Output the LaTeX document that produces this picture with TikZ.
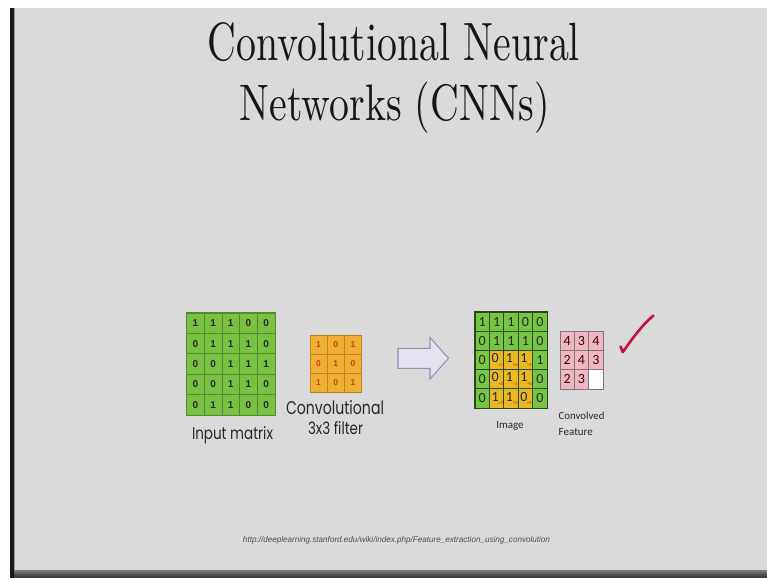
\documentclass[tikz,border=0pt]{standalone}
\usepackage{fontspec}
\newfontfamily\labelfont{Poppins}
\newfontfamily\calfont{Carlito}
\newfontfamily\numfont{Liberation Sans}
\definecolor{slidebg}{RGB}{218,218,218}
\definecolor{bandtop}{RGB}{120,120,120}
\definecolor{bandbot}{RGB}{55,55,55}
\definecolor{ingreen}{RGB}{122,192,67}
\definecolor{ingreenline}{RGB}{78,140,48}
\definecolor{forange}{RGB}{238,176,50}
\definecolor{forangeline}{RGB}{196,128,36}
\definecolor{fred}{RGB}{208,58,30}
\definecolor{imgreen}{RGB}{118,198,68}
\definecolor{imline}{RGB}{40,72,30}
\definecolor{imyellow}{RGB}{234,184,32}
\definecolor{cpink}{RGB}{238,184,194}
\definecolor{cpinkline}{RGB}{128,118,122}
\definecolor{arrowfill}{RGB}{228,226,238}
\definecolor{arrowline}{RGB}{150,146,176}
\definecolor{tick}{RGB}{196,18,58}
\definecolor{titlecol}{RGB}{22,22,22}
\definecolor{labelcol}{RGB}{40,40,40}
\tikzset{
  incell/.style={draw=ingreenline, fill=ingreen, line width=0.8pt, minimum width=17.7pt, minimum height=20.4pt, inner sep=0pt, font=\numfont\bfseries\fontsize{10}{10}\selectfont, text=black!85},
  fcell/.style={draw=forangeline, fill=forange, line width=0.7pt, minimum width=17.2pt, minimum height=19.2pt, inner sep=0pt, font=\numfont\bfseries\fontsize{8.5}{9}\selectfont, text=fred},
  imcell/.style={draw=imline, fill=imgreen, line width=0.9pt, minimum width=14.4pt, minimum height=19.2pt, inner sep=0pt, font=\calfont\fontsize{14}{14}\selectfont, text=black!85},
  imycell/.style={imcell, fill=imyellow},
  ccell/.style={draw=cpinkline, fill=cpink, line width=0.7pt, minimum width=14.33pt, minimum height=19.33pt, inner sep=0pt, font=\calfont\fontsize{14}{14}\selectfont, text=black!75!red},
  lbl/.style={inner sep=0pt, anchor=base, text=labelcol},
}
\newcommand\subx[1]{\rlap{\raisebox{-3.5pt}{\fontsize{4.5}{5}\selectfont\color{fred!80!black}×#1}}}
\begin{document}
\begin{tikzpicture}[x=1pt,y=-1pt]
\useasboundingbox (0,0) rectangle (767,579);
% slide frame
\fill[white] (0,0) rectangle (767,579);
\fill[slidebg] (14,8) rectangle (767,570);
\shade[top color=bandtop, bottom color=bandbot] (14,570) rectangle (767,577);
\fill[black!90] (10,8) rectangle (14,578);
\fill[black!40] (14,8) rectangle (15,570);
% title
\node[lbl, text=titlecol] (t1) at (394,60) {\resizebox{372pt}{38pt}{Convolutional Neural}};
\node[lbl, text=titlecol] (t2) at (395,120) {\resizebox{310pt}{38.5pt}{Networks (CNNs)}};
% input matrix
\foreach \row [count=\r from 0] in {{1,1,1,0,0},{0,1,1,1,0},{0,0,1,1,1},{0,0,1,1,0},{0,1,1,0,0}}{
  \foreach \v [count=\c from 0] in \row {
    \node[incell] (in-\r-\c) at ({186.5+17.7*(\c+0.5)},{313+20.4*(\r+0.5)}) {\v};
  }
}
\draw[ingreenline, line width=1pt] (in-0-0.north west) rectangle (in-4-4.south east);
\node[lbl] (inlbl) at (232.5,439) {\resizebox{81pt}{13pt}{\labelfont Input matrix}};
% filter
\foreach \row [count=\r from 0] in {{1,0,1},{0,1,0},{1,0,1}}{
  \foreach \v [count=\c from 0] in \row {
    \node[fcell] (f-\r-\c) at ({310+17.2*(\c+0.5)},{335+19.2*(\r+0.5)}) {\v};
  }
}
\node[lbl] (flbl1) at (335,414) {\resizebox{98pt}{14pt}{\labelfont Convolutional}};
\node[lbl] (flbl2) at (335.5,434) {\resizebox{55pt}{13pt}{\labelfont 3x3 filter}};
% block arrow
\draw[arrowline, fill=arrowfill, line width=1.1pt, line join=miter]
  (398,348.3) -- (430,348.3) -- (430,337.5) -- (448.5,358.3) -- (430,379.1) -- (430,368.3) -- (398,368.3) -- cycle;
% image
\foreach \row [count=\r from 0] in {{1,1,1,0,0},{0,1,1,1,0},{0,0,1,1,1},{0,0,1,1,0},{0,1,1,0,0}}{
  \foreach \v [count=\c from 0] in \row {
    \pgfmathtruncatemacro\isy{(\r>=2)&&(\c>=1)&&(\c<=3)}
    \pgfmathtruncatemacro\fv{mod(\r+\c,2)}
    \ifnum\isy=1
      \node[imycell] (im-\r-\c) at ({475+14.4*(\c+0.5)},{312+19.2*(\r+0.5)}) {\hspace*{-3pt}\v\subx{\fv}};
    \else
      \node[imcell] (im-\r-\c) at ({475+14.4*(\c+0.5)},{312+19.2*(\r+0.5)}) {\v};
    \fi
  }
}
\draw[imline, line width=1.4pt] (im-0-0.north west) rectangle (im-4-4.south east);
\node[lbl] (imlbl) at (510,428.5) {\calfont\fontsize{11}{12}\selectfont Image};
% convolved feature
\foreach \row [count=\r from 0] in {{4,3,4},{2,4,3},{2,3,{}}}{
  \foreach \v [count=\c from 0] in \row {
    \node[ccell] (cf-\r-\c) at ({560+14.33*(\c+0.5)},{331+19.33*(\r+0.5)}) {\v};
  }
}
\node[ccell, fill=white] (cf-2-2w) at (cf-2-2) {};
\node[lbl, anchor=base west] (cflbl1) at (558.5,419) {\calfont\fontsize{10.8}{11}\selectfont Convolved};
\node[lbl, anchor=base west] (cflbl2) at (558.5,435) {\calfont\fontsize{11}{11}\selectfont Feature};
% tick mark
\draw[tick, line width=2.6pt, line cap=round, line join=round]
  (620.5,346.5) -- (622.8,352) .. controls (632,339) and (642,325) .. (653.5,315.5);
% url
\node[lbl, text=black!70] (url) at (396.5,542) {\resizebox{307pt}{6pt}{\numfont\itshape http://deeplearning.stanford.edu/wiki/index.php/Feature\_extraction\_using\_convolution}};
\end{tikzpicture}
\end{document}
